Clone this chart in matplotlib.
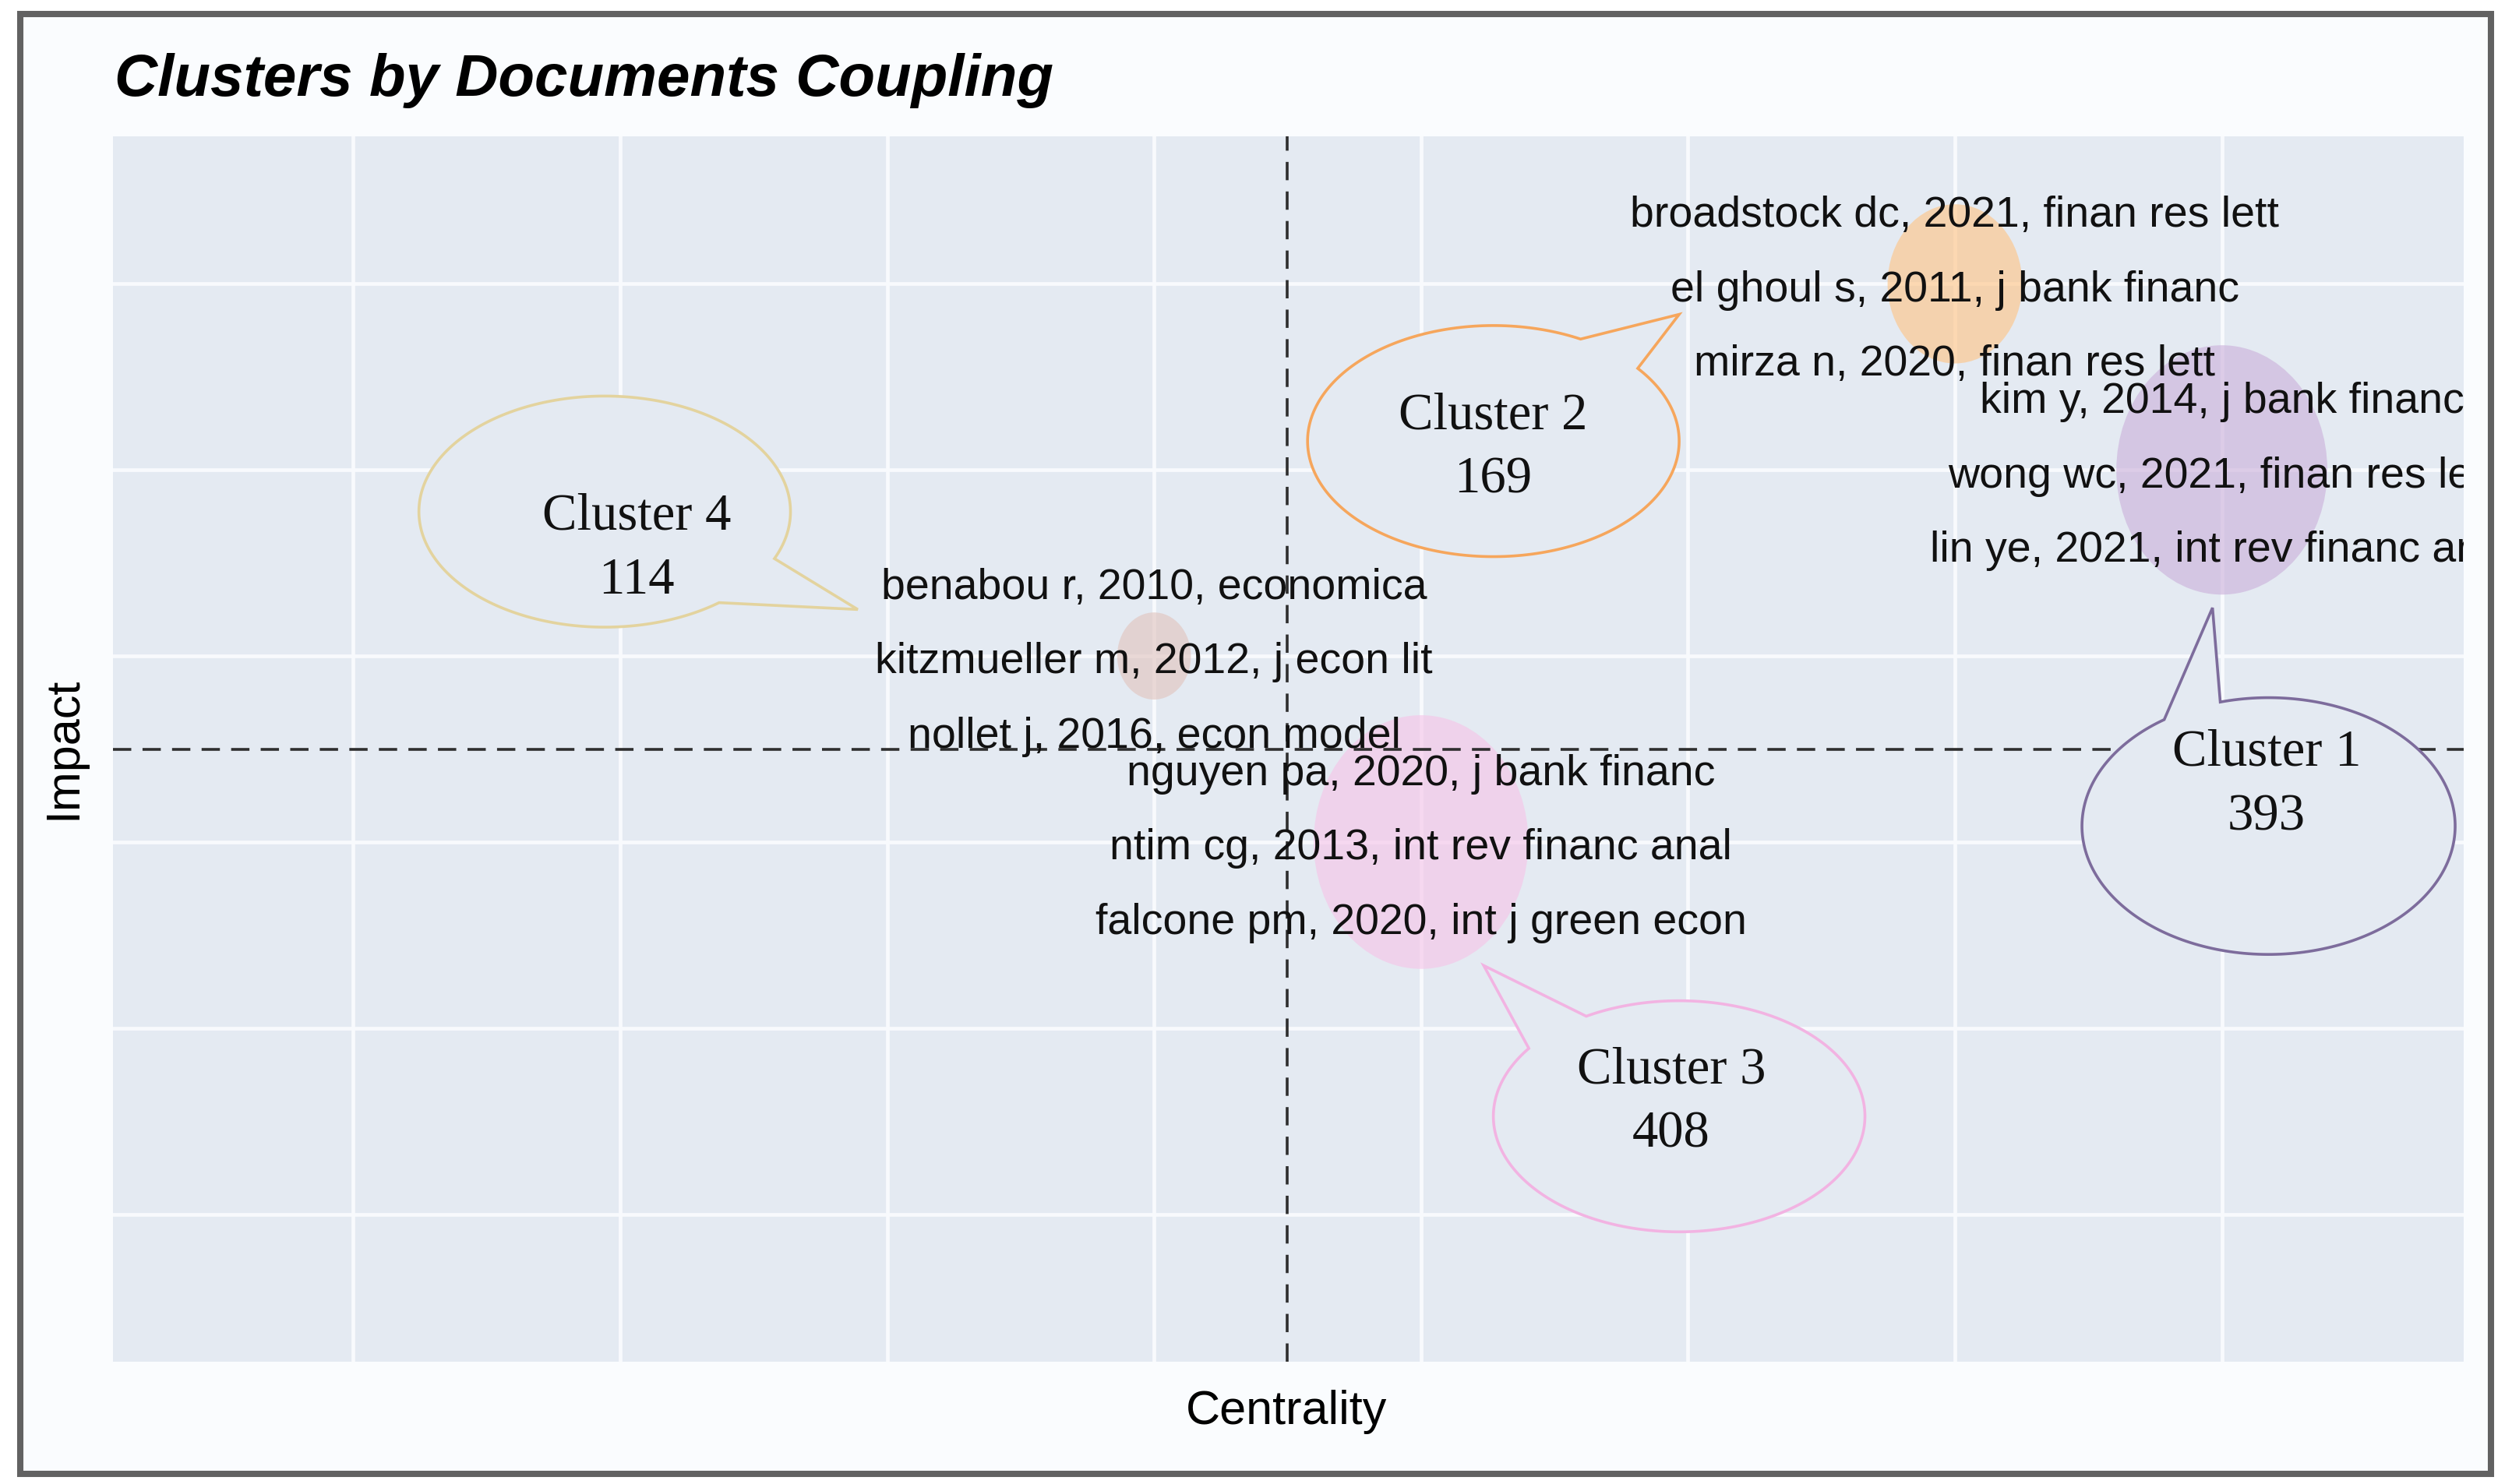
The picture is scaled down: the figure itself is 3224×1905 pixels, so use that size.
"""Clusters by documents coupling - bubble map with callouts."""

import numpy as np
import matplotlib
matplotlib.use('Agg')
import matplotlib.pyplot as plt
from matplotlib import font_manager
from matplotlib.patches import Ellipse, Polygon, Rectangle

# ===== Data =====
clusters = ['Cluster 1', 'Cluster 2', 'Cluster 3', 'Cluster 4']
freq = [393, 169, 408, 114]
centrality = [7.0, 6.0, 4.0, 3.0]
impact = [4.0, 5.0, 2.0, 3.0]
doc_labels = [
    ['kim y, 2014, j bank financ', 'wong wc, 2021, finan res lett', 'lin ye, 2021, int rev financ anal'],
    ['broadstock dc, 2021, finan res lett', 'el ghoul s, 2011, j bank financ', 'mirza n, 2020, finan res lett'],
    ['nguyen pa, 2020, j bank financ', 'ntim cg, 2013, int rev financ anal', 'falcone pm, 2020, int j green econ'],
    ['benabou r, 2010, economica', 'kitzmueller m, 2012, j econ lit', 'nollet j, 2016, econ model'],
]
centrality_cut = 3.5
impact_cut = 2.5

# ===== Style =====
PANEL = '#E4EAF2'
BUBBLE_COLORS = ['#CBB1DB', '#FFC484', '#F6C4E8', '#E1C4BE']
CALLOUT_EDGE = ['#7D6C9C', '#F6A65C', '#F2B3E2', '#E3D39E']

names = {f.name for f in font_manager.fontManager.ttflist}
if 'Liberation Sans Narrow' in names:
    LABEL_FONT, LABEL_SIZE, AXIS_SIZE = 'Liberation Sans Narrow', 24.5, 26
else:
    LABEL_FONT, LABEL_SIZE, AXIS_SIZE = 'Liberation Sans', 20, 22

# callout layout (data coords): ellipse centre, half axes, tail arc (deg), tail tip, text pos
callouts = [
    dict(c=(7.175, 2.086), ab=(0.699, 0.690), arc=(105, 124), tip=(6.965, 3.259), txt=(7.168, 2.48, 2.135)),
    dict(c=(4.271, 4.155), ab=(0.696, 0.621), arc=(39, 62), tip=(4.967, 4.836), txt=(4.271, 4.29, 3.945)),
    dict(c=(4.967, 0.526), ab=(0.696, 0.621), arc=(120, 144), tip=(4.235, 1.336), txt=(4.937, 0.775, 0.43)),
    dict(c=(0.942, 3.776), ab=(0.696, 0.621), arc=(-52, -24), tip=(1.890, 3.250), txt=(1.062, 3.75, 3.405)),
]

fig = plt.figure(figsize=(16.12, 9.525), dpi=200, facecolor='white')

# outer frame (behind the axes)
fig.patches.append(Rectangle((0.0081, 0.0068), 0.9835, 0.9838, transform=fig.transFigure,
                             facecolor='#FAFCFE', edgecolor='#626262', linewidth=2.9, zorder=-5))

ax = fig.add_axes([0.04498, 0.08241, 0.93579, 0.82573], zorder=1)
ax.set_facecolor(PANEL)
ax.set_xlim(-0.9, 7.906)
ax.set_ylim(-0.793, 5.793)
ax.set_xticks(range(8))
ax.set_yticks(range(6))
ax.set_xticklabels([])
ax.set_yticklabels([])
ax.tick_params(length=0)
for s in ax.spines.values():
    s.set_visible(False)
ax.grid(True, color='#F8FAFD', linewidth=1.7)
ax.set_axisbelow(True)

# bubbles: radius rescaled like ggplot's area scale
f = np.array(freq, dtype=float)
r = 0.138 + np.sqrt((f - f.min()) / (f.max() - f.min())) * (0.402 - 0.138)
for i in range(len(clusters)):
    ax.add_patch(Ellipse((centrality[i], impact[i]), 2 * r[i], 2 * r[i] * 1.18 * 166.7 / 116,
                         facecolor=BUBBLE_COLORS[i], alpha=0.62, edgecolor='none', zorder=2))

ax.axvline(centrality_cut, color='#2e2e2e', linewidth=1.3, linestyle=(0, (6.5, 4)), zorder=3)
ax.axhline(impact_cut, color='#2e2e2e', linewidth=1.3, linestyle=(0, (6.5, 4)), zorder=3)

# callouts
for i, co in enumerate(callouts):
    cx, cy = co['c']
    a, b = co['ab']
    t1, t2 = co['arc']
    t = np.radians(np.linspace(t2, t1 + 360, 240))
    pts = np.column_stack([cx + a * np.cos(t), cy + b * np.sin(t)])
    pts = np.vstack([pts, co['tip']])
    ax.add_patch(Polygon(pts, closed=True, facecolor=PANEL, edgecolor=CALLOUT_EDGE[i],
                         linewidth=1.3, zorder=4))
    tx, ty1, ty2 = co['txt']
    ax.text(tx, ty1, clusters[i], ha='center', va='center', family='Liberation Serif',
            fontsize=24, color='#111111', zorder=6)
    ax.text(tx, ty2, str(freq[i]), ha='center', va='center', family='Liberation Serif',
            fontsize=24, color='#111111', zorder=6)

# document labels
for i in range(len(clusters)):
    for k, lab in enumerate(doc_labels[i]):
        ax.text(centrality[i], impact[i] + 0.365 - 0.4 * k, lab, ha='center', va='center',
                family=LABEL_FONT, fontsize=LABEL_SIZE, color='#111111', zorder=7, clip_on=True)

fig.text(0.0456, 0.9354, 'Clusters by Documents Coupling', ha='left', va='baseline',
         family='Liberation Sans', fontsize=27.5, fontweight='bold', fontstyle='italic')
fig.text(0.512, 0.0483, 'Centrality', ha='center', va='center', family=LABEL_FONT, fontsize=AXIS_SIZE)
fig.text(0.0255, 0.496, 'Impact', ha='center', va='center', rotation=90, family=LABEL_FONT,
         fontsize=AXIS_SIZE)

fig.savefig('out.png', dpi=200, facecolor='white')
